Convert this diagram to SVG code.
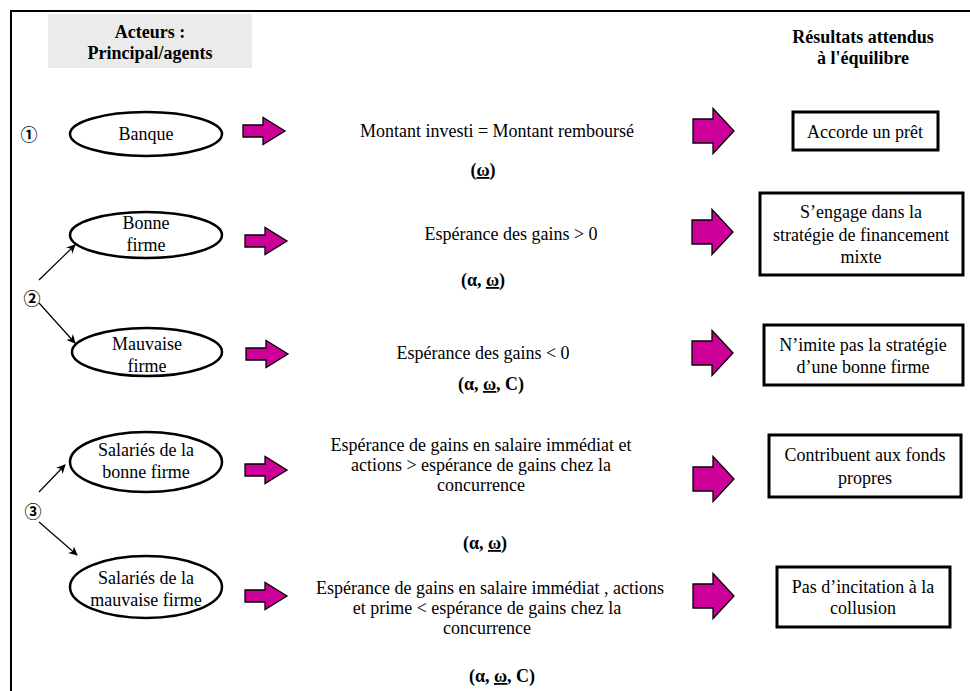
<svg xmlns="http://www.w3.org/2000/svg" width="970" height="691" viewBox="0 0 970 691">
<style>
text{fill:#000;text-anchor:middle;font-size:18px}
.b{font-weight:bold}
.ell{fill:#fff;stroke:#000;stroke-width:2.5}
.box{fill:#fff;stroke:#000;stroke-width:3}
.arr{fill:#CC0099;stroke:#000;stroke-width:1.3;stroke-linejoin:miter}
.ln{stroke:#000;stroke-width:1.2;fill:none;marker-end:url(#ah)}
.u{text-decoration:underline}
</style>
<defs>
<marker id="ah" viewBox="0 0 10 10" refX="9" refY="5" markerWidth="9" markerHeight="9" markerUnits="userSpaceOnUse" orient="auto">
<path d="M0,0 L10,5 L0,10 L3,5 Z" fill="#000"/>
</marker>
<path id="sa" class="arr" d="M0,-6 H20 V-13.5 L42,0 L20,13.5 V6 H0 Z"/>
<path id="la" class="arr" d="M0,-12 H20 V-22.5 L41,0 L20,22.5 V12 H0 Z"/>
</defs>

<g id="frame">
<line x1="11" y1="11" x2="970" y2="11" stroke="#000" stroke-width="2"/>
<line x1="11" y1="10" x2="11" y2="691" stroke="#000" stroke-width="2"/>
</g>

<g id="header-left">
<rect x="48" y="14" width="204" height="54" fill="#EBEBEB"/>
<text class="b" style="font-family:'Liberation Serif',serif" x="150" y="38">Acteurs :</text>
<text class="b" style="font-family:'Liberation Serif',serif" x="150" y="59">Principal/agents</text>
</g>
<g id="header-right">
<text class="b" style="font-family:'Liberation Serif',serif" x="863" y="43">Résultats attendus</text>
<text class="b" style="font-family:'Liberation Serif',serif" x="863" y="64">à l'équilibre</text>
</g>

<g id="n1">
<text style="font-family:'Noto Sans CJK JP',sans-serif;font-size:17px;font-weight:bold" x="29" y="141">①</text>
</g>
<g id="n2">
<text style="font-family:'Noto Sans CJK JP',sans-serif;font-size:17px;font-weight:bold" x="32" y="305">②</text>
</g>
<g id="n3">
<text style="font-family:'Noto Sans CJK JP',sans-serif;font-size:17px;font-weight:bold" x="33" y="518">③</text>
</g>

<g id="banque">
<ellipse class="ell" cx="146" cy="134" rx="76" ry="22"/>
<text style="font-family:'Liberation Serif',serif" x="146" y="140">Banque</text>
</g>
<g id="bonne">
<ellipse class="ell" cx="146" cy="235" rx="76" ry="23"/>
<text style="font-family:'Liberation Serif',serif" x="146" y="229">Bonne</text>
<text style="font-family:'Liberation Serif',serif" x="146" y="251">firme</text>
</g>
<g id="mauvaise">
<ellipse class="ell" cx="147" cy="352" rx="75" ry="24"/>
<text style="font-family:'Liberation Serif',serif" x="147" y="350">Mauvaise</text>
<text style="font-family:'Liberation Serif',serif" x="147" y="372">firme</text>
</g>
<g id="sal-bonne">
<ellipse class="ell" cx="146" cy="462" rx="76" ry="30"/>
<text style="font-family:'Liberation Serif',serif" x="146" y="456">Salariés de la</text>
<text style="font-family:'Liberation Serif',serif" x="146" y="478">bonne firme</text>
</g>
<g id="sal-mauvaise">
<ellipse class="ell" cx="146" cy="587" rx="76" ry="31"/>
<text style="font-family:'Liberation Serif',serif" x="146" y="584">Salariés de la</text>
<text style="font-family:'Liberation Serif',serif" x="146" y="606">mauvaise firme</text>
</g>

<g id="cond1">
<text style="font-family:'Liberation Serif',serif" x="497" y="137">Montant investi = Montant remboursé</text>
<text class="b" style="font-family:'Liberation Serif',serif" x="483" y="176">(<tspan class="u">ω</tspan>)</text>
</g>
<g id="cond2">
<text style="font-family:'Liberation Serif',serif" x="511" y="240">Espérance des gains &gt; 0</text>
<text class="b" style="font-family:'Liberation Serif',serif" x="483" y="286">(α, <tspan class="u">ω</tspan>)</text>
</g>
<g id="cond3">
<text style="font-family:'Liberation Serif',serif" x="483" y="359">Espérance des gains &lt; 0</text>
<text class="b" style="font-family:'Liberation Serif',serif" x="491" y="390">(α, <tspan class="u">ω</tspan>, C)</text>
</g>
<g id="cond4">
<text style="font-family:'Liberation Serif',serif" x="481" y="451">Espérance de gains en salaire immédiat et</text>
<text style="font-family:'Liberation Serif',serif" x="481" y="471">actions &gt; espérance de gains chez la</text>
<text style="font-family:'Liberation Serif',serif" x="481" y="491">concurrence</text>
<text class="b" style="font-family:'Liberation Serif',serif" x="485" y="549">(α, <tspan class="u">ω</tspan>)</text>
</g>
<g id="cond5">
<text style="font-family:'Liberation Serif',serif" x="490" y="594">Espérance de gains en salaire immédiat , actions</text>
<text style="font-family:'Liberation Serif',serif" x="487" y="614">et prime &lt; espérance de gains chez la</text>
<text style="font-family:'Liberation Serif',serif" x="487" y="634">concurrence</text>
<text class="b" style="font-family:'Liberation Serif',serif" x="502" y="682">(α, <tspan class="u">ω</tspan>, C)</text>
</g>

<g id="res1">
<rect class="box" x="793" y="112" width="145" height="38"/>
<text style="font-family:'Liberation Serif',serif" x="865" y="138">Accorde un prêt</text>
</g>
<g id="res2">
<rect class="box" x="760" y="193" width="203" height="82"/>
<text style="font-family:'Liberation Serif',serif" x="861" y="218">S’engage dans la</text>
<text style="font-family:'Liberation Serif',serif" x="861" y="241">stratégie de financement</text>
<text style="font-family:'Liberation Serif',serif" x="861" y="263">mixte</text>
</g>
<g id="res3">
<rect class="box" x="764" y="325" width="199" height="60"/>
<text style="font-family:'Liberation Serif',serif" x="863" y="351">N’imite pas la stratégie</text>
<text style="font-family:'Liberation Serif',serif" x="863" y="373">d’une bonne firme</text>
</g>
<g id="res4">
<rect class="box" x="769" y="435" width="192" height="62"/>
<text style="font-family:'Liberation Serif',serif" x="865" y="461">Contribuent aux fonds</text>
<text style="font-family:'Liberation Serif',serif" x="865" y="484">propres</text>
</g>
<g id="res5">
<rect class="box" x="777" y="567" width="173" height="60"/>
<text style="font-family:'Liberation Serif',serif" x="863" y="593">Pas d’incitation à la</text>
<text style="font-family:'Liberation Serif',serif" x="863" y="614">collusion</text>
</g>

<g id="connectors">
<use href="#sa" x="243" y="131"/>
<use href="#sa" x="245" y="241"/>
<use href="#sa" x="246" y="354"/>
<use href="#sa" x="245" y="470"/>
<use href="#sa" x="245" y="596"/>
<use href="#la" x="693" y="131"/>
<use href="#la" x="692" y="232"/>
<use href="#la" x="692" y="353"/>
<use href="#la" x="693" y="479"/>
<use href="#la" x="693" y="596"/>
<line class="ln" x1="39" y1="280" x2="75" y2="245"/>
<line class="ln" x1="39" y1="303" x2="75" y2="343"/>
<line class="ln" x1="39" y1="492" x2="65" y2="465"/>
<line class="ln" x1="39" y1="522" x2="77" y2="555"/>
</g>
</svg>
